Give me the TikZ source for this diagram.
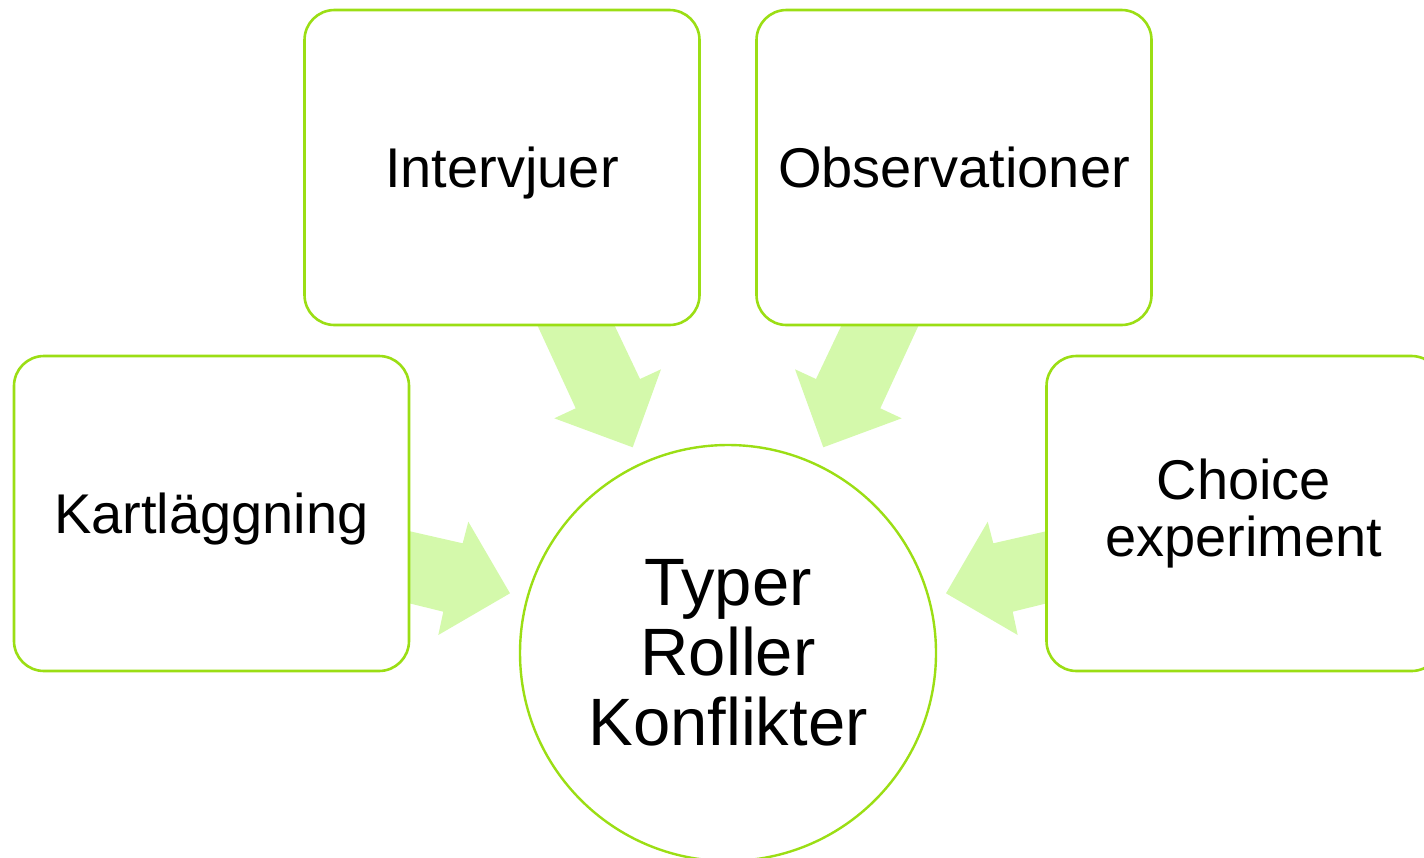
\documentclass[tikz,border=0pt]{standalone}
\usepackage{fontspec}
\setmainfont{Liberation Sans}
\definecolor{boxline}{RGB}{155,222,20}
\definecolor{arrowfill}{RGB}{212,249,171}
\begin{document}
\begin{tikzpicture}[x=1pt,y=-1pt,
  methodbox/.style={draw=boxline, line width=2.6pt, fill=white, rounded corners=30pt,
    minimum width=395pt, minimum height=315pt, align=center,
    font=\fontsize{56}{57}\selectfont, inner sep=0pt},
  oneline/.style={text height=40pt, text depth=1pt},
  centercircle/.style={draw=boxline, line width=2.4pt, fill=white, circle,
    minimum size=416pt, align=center, font=\fontsize{67}{70}\selectfont, inner sep=0pt},
  blockarrow/.style={fill=arrowfill, draw=none}]
\useasboundingbox (0,0) rectangle (1424,857);
\clip (0,0) rectangle (1424,857);
% block arrows
\fill[blockarrow] (400,529) -- (462.7,543.3) -- (468.3,521.7) -- (510,593.3) -- (438.3,635) -- (443.3,611.7) -- (400,601) -- cycle;
\fill[blockarrow] (1056,529) -- (993.3,543.3) -- (987.7,521.7) -- (946,593.3) -- (1017.7,635) -- (1012.7,611.7) -- (1056,601) -- cycle;
\fill[blockarrow] (534,318) -- (611,318) -- (640,379) -- (661,369.3) -- (632.7,447.3) -- (554.3,418.3) -- (575.7,408.3) -- cycle;
\fill[blockarrow] (922,318) -- (845,318) -- (816,379) -- (795,369.3) -- (823.3,447.3) -- (901.7,418.3) -- (880.3,408.3) -- cycle;
% nodes
\node[methodbox, oneline] (kart) at (211.5,513.5) {Kartläggning};
\node[methodbox, oneline] (intv) at (502,167.5) {Intervjuer};
\node[methodbox, oneline] (obs) at (954,167.5) {Observationer};
\node[methodbox] (choice) at (1244,513.5) {Choice\\experiment};
\node[centercircle] (center) at (728,653) {Typer\\Roller\\Konflikter};
\end{tikzpicture}
\end{document}
